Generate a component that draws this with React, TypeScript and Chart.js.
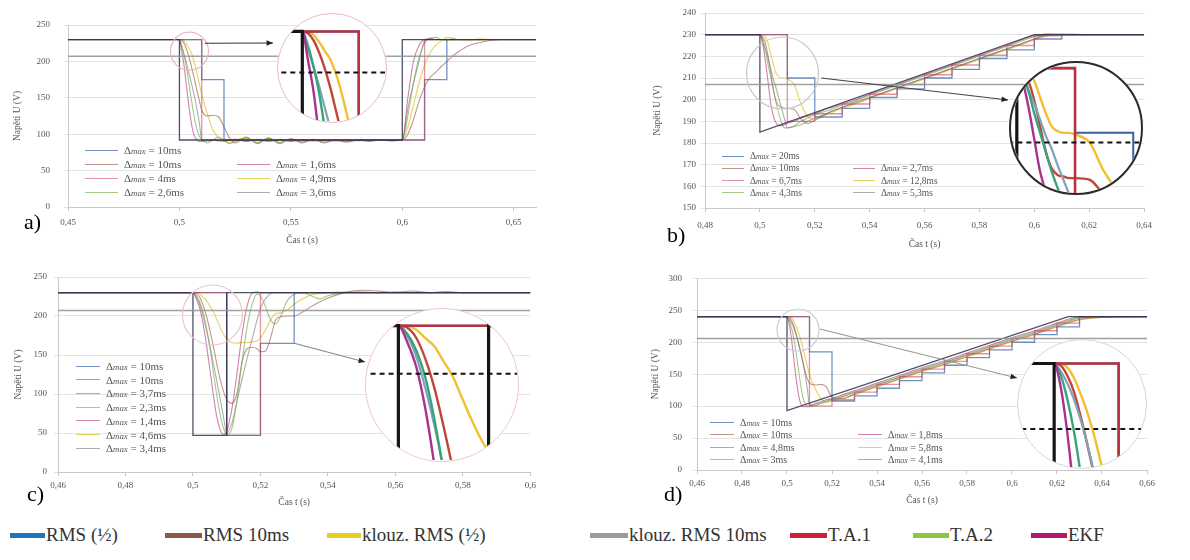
import React, { useEffect, useRef } from "react";
import { Chart, registerables } from "chart.js";
Chart.register(...registerables);

const SERIF = '"Liberation Serif", "Times New Roman", "DejaVu Serif", serif';

// ---------------- panel a) ----------------
const aXTicks = [0.45, 0.5, 0.55, 0.6, 0.65];
const aYTicks = [0, 50, 100, 150, 200, 250];
const aTime = [0.45, 0.5, 0.501, 0.502, 0.503, 0.504, 0.505, 0.506, 0.507, 0.508, 0.509, 0.51, 0.5125, 0.515, 0.5175, 0.52, 0.5225, 0.525, 0.53, 0.535, 0.54, 0.545, 0.55, 0.555, 0.56, 0.565, 0.57, 0.575, 0.58, 0.585, 0.59, 0.595, 0.6, 0.6025, 0.605, 0.6075, 0.61, 0.6125, 0.615, 0.6175, 0.62, 0.6225, 0.625, 0.63, 0.635, 0.64, 0.645, 0.65, 0.66];
const aEkf = [230, 230, 214, 196, 170, 145, 122, 105, 96, 92, 90, 90, 91, 92, 91, 90, 92, 93, 90, 93, 90, 93, 90, 92, 91, 92, 91, 92, 91, 92, 92, 92, 92, 150, 200, 222, 230, 231, 230, 230, 230, 230, 230, 230, 230, 230, 230, 230, 230];
const aTa2 = [230, 230, 222, 210, 195, 175, 155, 135, 118, 105, 97, 93, 88, 92, 96, 92, 87, 90, 95, 88, 94, 88, 93, 89, 92, 89, 92, 90, 92, 91, 92, 91, 92, 125, 170, 205, 225, 232, 233, 230, 229, 231, 230, 230, 230, 230, 230, 230, 230];
const aKlouz10 = [230, 230, 220, 210, 199, 187, 175, 162, 148, 132, 114, 92, 91, 92, 91, 92, 91, 92, 91, 92, 91, 92, 91, 92, 91, 92, 91, 92, 92, 92, 92, 92, 92, 135, 170, 200, 228, 231, 230, 230, 230, 230, 230, 230, 230, 230, 230, 230, 230];
const aRms10 = [230, 230, 229, 225, 218, 209, 198, 185, 172, 158, 145, 133, 125, 126, 124, 110, 95, 88, 96, 87, 95, 87, 94, 88, 93, 88, 92, 89, 92, 90, 92, 91, 92, 100, 120, 145, 165, 178, 185, 193, 200, 207, 213, 222, 226, 229, 230, 230, 230];
const aKlouzHalf = [230, 230, 230, 228, 224, 219, 214, 206, 195, 182, 168, 155, 128, 106, 95, 91, 88, 92, 94, 89, 94, 89, 93, 90, 93, 90, 92, 90, 92, 91, 92, 91, 92, 110, 140, 170, 195, 212, 222, 228, 233, 232, 230, 229, 231, 230, 230, 230, 230];
const aDarkT = [0.45, 0.5, 0.6, 0.66];
const aDarkV = [230, 92, 230, 230];
const aRmsHalfT = [0.45, 0.51, 0.52, 0.61, 0.62, 0.66];
const aRmsHalfV = [230, 175, 92, 175, 230, 230];
const aTa1T = [0.45, 0.51, 0.61, 0.66];
const aTa1V = [230, 92, 230, 230];
const aThrT = [0.45, 0.66];
const aThrV = [207, 207];
const aLegend = ["10ms", "10ms", "4ms", "2,6ms", "1,6ms", "4,9ms", "3,6ms"];

// ---------------- panel b) ----------------
const bXTicks = [0.48, 0.5, 0.52, 0.54, 0.56, 0.58, 0.6, 0.62, 0.64];
const bYTicks = [150, 160, 170, 180, 190, 200, 210, 220, 230, 240];
const bTime = [0.48, 0.5, 0.501, 0.502, 0.503, 0.504, 0.505, 0.506, 0.507, 0.508, 0.509, 0.51, 0.5125, 0.515, 0.5175, 0.52, 0.525, 0.53, 0.535, 0.54, 0.55, 0.56, 0.57, 0.58, 0.59, 0.6, 0.605, 0.61, 0.62, 0.64];
const bEkf = [230, 230, 226, 218, 208, 198, 192, 189, 188, 188, 188.5, 189, 190, 191.5, 192.5, 193.5, 196, 198, 200, 202.5, 207, 211.5, 216, 220.5, 225, 229.5, 230, 230, 230, 230];
const bTa2 = [230, 230, 228, 223, 216, 210, 204, 198, 193, 189, 187, 187, 188, 190, 191.5, 193, 195, 197.5, 199.5, 202, 206.5, 211, 215.5, 220, 224.5, 229, 230.5, 230, 230, 230];
const bKlouz10 = [230, 230, 227, 223, 219, 214, 209, 205, 200, 195.5, 191, 187, 187.5, 188.5, 190, 191.5, 194, 196.5, 198.5, 201, 205.5, 210, 214.5, 219, 223.5, 228, 230, 230, 230, 230];
const bRms10 = [230, 230, 229, 226, 220, 212, 204, 199, 197, 196.5, 196, 196, 195.5, 191, 189, 190.5, 194, 196.5, 199, 201, 205.5, 210, 214.5, 219, 223.5, 228, 230, 230, 230, 230];
const bKlouzHalf = [230, 230, 230, 229, 226, 221, 216, 212, 210.5, 210, 210, 209.5, 207, 198, 192, 191, 193.5, 196, 198, 200.5, 205, 209.5, 214, 218.5, 223, 227.5, 229.5, 230.5, 230, 230];
const bDarkT = [0.48, 0.5, 0.5, 0.6, 0.64];
const bDarkV = [230, 230, 185, 230, 230];
const bRmsHalfT = [0.48, 0.51, 0.52, 0.53, 0.54, 0.55, 0.56, 0.57, 0.58, 0.59, 0.6, 0.61, 0.64];
const bRmsHalfV = [230, 210, 192, 196, 201, 205, 210, 214, 219, 223, 228, 230, 230];
const bTa1T = [0.48, 0.51, 0.52, 0.53, 0.54, 0.55, 0.56, 0.57, 0.58, 0.59, 0.6, 0.61, 0.64];
const bTa1V = [230, 190, 193.5, 198, 202.5, 207, 211.5, 216, 220.5, 225, 229.5, 230, 230];
const bThrT = [0.48, 0.64];
const bThrV = [207, 207];
const bLegend = ["20ms", "10ms", "6,7ms", "4,3ms", "2,7ms", "12,8ms", "5,3ms"];

// ---------------- panel c) ----------------
const cXTicks = [0.46, 0.48, 0.5, 0.52, 0.54, 0.56, 0.58, 0.6];
const cYTicks = [0, 50, 100, 150, 200, 250];
const cTime = [0.46, 0.5, 0.501, 0.502, 0.503, 0.504, 0.505, 0.506, 0.507, 0.508, 0.509, 0.51, 0.5115, 0.513, 0.5145, 0.516, 0.5175, 0.519, 0.52, 0.5215, 0.523, 0.5245, 0.526, 0.528, 0.53, 0.5325, 0.535, 0.5375, 0.54, 0.545, 0.55, 0.555, 0.56, 0.565, 0.57, 0.575, 0.58, 0.59, 0.6];
const cEkf = [230, 230, 222, 210, 190, 163, 132, 100, 72, 55, 48, 52, 80, 125, 175, 212, 229, 231, 230, 230, 230, 230, 230, 230, 230, 230, 230, 230, 230, 230, 230, 230, 230, 230, 230, 230, 230, 230, 230];
const cTa2 = [230, 230, 226, 218, 205, 185, 160, 130, 100, 75, 57, 48, 55, 90, 140, 185, 215, 228, 226, 212, 195, 190, 200, 220, 228, 230, 226, 222, 226, 230, 231, 230, 231, 230, 230, 231, 230, 230, 230];
const cKlouz10 = [230, 230, 225, 215, 200, 182, 162, 140, 118, 95, 72, 50, 62, 90, 118, 145, 170, 195, 210, 222, 229, 230, 230, 230, 230, 230, 230, 230, 230, 230, 230, 230, 230, 230, 230, 230, 230, 230, 230];
const cRms10 = [230, 230, 229, 224, 214, 200, 182, 162, 140, 120, 104, 93, 88, 100, 140, 158, 160, 158, 154, 155, 172, 195, 199, 200, 200, 205, 212, 218, 223, 230, 233, 232, 230, 232, 230, 231, 230, 230, 230];
const cKlouzHalf = [230, 230, 230, 228, 224, 220, 213, 206, 196, 186, 177, 170, 166, 165, 166, 166, 167, 168, 172, 182, 195, 203, 204, 208, 215, 222, 227, 229, 230, 231, 230, 230, 230, 230, 230, 230, 230, 230, 230];
const cDarkT = [0.46, 0.5, 0.51, 0.6];
const cDarkV = [230, 47, 230, 230];
const cRmsHalfT = [0.46, 0.51, 0.52, 0.53, 0.6];
const cRmsHalfV = [230, 47, 165, 230, 230];
const cTa1T = [0.46, 0.51, 0.52, 0.6];
const cTa1V = [230, 47, 230, 230];
const cThrT = [0.46, 0.6];
const cThrV = [207, 207];
const cLegend = ["10ms", "10ms", "3,7ms", "2,3ms", "1,4ms", "4,6ms", "3,4ms"];

// ---------------- panel d) ----------------
const dXTicks = [0.46, 0.48, 0.5, 0.52, 0.54, 0.56, 0.58, 0.6, 0.62, 0.64, 0.66];
const dYTicks = [0, 50, 100, 150, 200, 250, 300];
const dTime = [0.46, 0.5, 0.501, 0.502, 0.503, 0.504, 0.505, 0.506, 0.507, 0.508, 0.509, 0.51, 0.5125, 0.515, 0.5175, 0.52, 0.525, 0.53, 0.535, 0.54, 0.55, 0.56, 0.57, 0.58, 0.59, 0.6, 0.61, 0.62, 0.625, 0.63, 0.64, 0.66];
const dEkf = [240, 240, 228, 205, 175, 145, 120, 105, 99, 99, 100, 101, 104, 107, 110, 112, 118, 124, 130, 136, 148, 160, 171, 183, 195, 207, 218, 230, 236, 240, 240, 240];
const dTa2 = [240, 240, 234, 222, 206, 185, 160, 135, 115, 104, 99, 99, 102, 105, 108, 111, 116, 122, 128, 134, 146, 158, 169, 181, 193, 205, 216, 228, 234, 239, 240, 240];
const dKlouz10 = [240, 240, 236, 230, 222, 212, 200, 186, 170, 150, 128, 102, 101, 104, 107, 110, 115, 121, 127, 133, 145, 157, 168, 180, 192, 204, 215, 227, 233, 238, 240, 240];
const dRms10 = [240, 240, 239, 234, 226, 214, 200, 185, 170, 155, 143, 136, 133, 134, 130, 114, 112, 119, 125, 131, 143, 155, 166, 178, 190, 202, 213, 225, 231, 236, 239, 240];
const dKlouzHalf = [240, 240, 240, 238, 233, 225, 216, 205, 192, 178, 163, 150, 128, 112, 106, 108, 113, 118, 124, 130, 142, 154, 165, 177, 189, 201, 212, 224, 230, 235, 239, 240];
const dDarkT = [0.46, 0.5, 0.5, 0.625, 0.66];
const dDarkV = [240, 240, 93, 240, 240];
const dRmsHalfT = [0.46, 0.51, 0.52, 0.53, 0.54, 0.55, 0.56, 0.57, 0.58, 0.59, 0.6, 0.61, 0.62, 0.63, 0.66];
const dRmsHalfV = [240, 185, 108, 116, 128, 140, 152, 164, 176, 188, 200, 212, 224, 240, 240];
const dTa1T = [0.46, 0.51, 0.52, 0.53, 0.54, 0.55, 0.56, 0.57, 0.58, 0.59, 0.6, 0.61, 0.62, 0.63, 0.66];
const dTa1V = [240, 100, 110, 122, 134, 146, 158, 170, 182, 194, 206, 218, 230, 240, 240];
const dThrT = [0.46, 0.66];
const dThrV = [206, 206];
const dLegend = ["10ms", "10ms", "4,8ms", "3ms", "1,8ms", "5,8ms", "4,1ms"];

// ---------------- global legend ----------------
const methodNames = ["RMS (½)", "RMS 10ms", "klouz. RMS (½)", "klouz. RMS 10ms", "T.A.1", "T.A.2", "EKF"];
const methodColors = ["#1f74bd", "#8a5a44", "#e6cf1c", "#9c9c9c", "#cc2233", "#8cc63e", "#b0176f"];

// ---------------- styles ----------------
type Style = { color: string; width: number; dash?: number[] };
const MAIN_STYLE: Record<string, Style> = {
  thr: { color: "rgba(150,150,150,0.9)", width: 1.6 },
  dark: { color: "rgba(45,50,75,0.85)", width: 1.3 },
  ta1: { color: "rgba(200,60,80,0.55)", width: 1.3 },
  rmsHalf: { color: "rgba(50,100,170,0.7)", width: 1.3 },
  ekf: { color: "rgba(176,23,111,0.55)", width: 1.1 },
  ta2: { color: "rgba(110,175,70,0.65)", width: 1.1 },
  klouz10: { color: "rgba(120,120,120,0.6)", width: 1.1 },
  rms10: { color: "rgba(150,80,60,0.6)", width: 1.1 },
  klouzHalf: { color: "rgba(225,195,40,0.75)", width: 1.1 },
};
const INSET_STYLE: Record<string, Style> = {
  thr: { color: "#111", width: 2, dash: [5, 4] },
  dark: { color: "#151515", width: 3.2 },
  ta1: { color: "#b5343c", width: 2.6 },
  rmsHalf: { color: "#3a5fa0", width: 2 },
  ekf: { color: "#a8328f", width: 2.4 },
  ta2: { color: "#3aa37a", width: 2.4 },
  klouz10: { color: "#7fa3b8", width: 2.2 },
  rms10: { color: "#c0463a", width: 2.4 },
  klouzHalf: { color: "#f0c030", width: 2.4 },
};
const LEGEND_ROLES = ["rmsHalf", "rms10", "ta1", "ta2", "ekf", "klouzHalf", "klouz10"];

type Series = { t: number[]; v: number[]; role: string; stepped?: boolean; smooth?: boolean };
const mk = (t: number[], v: number[], role: string, kind = "") => ({ t, v, role, stepped: kind === "step", smooth: kind === "smooth" });

const aSeries: Series[] = [
  mk(aThrT, aThrV, "thr"), mk(aDarkT, aDarkV, "dark", "step"), mk(aTa1T, aTa1V, "ta1", "step"),
  mk(aRmsHalfT, aRmsHalfV, "rmsHalf", "step"), mk(aTime, aEkf, "ekf", "smooth"), mk(aTime, aTa2, "ta2", "smooth"),
  mk(aTime, aKlouz10, "klouz10", "smooth"), mk(aTime, aRms10, "rms10", "smooth"), mk(aTime, aKlouzHalf, "klouzHalf", "smooth"),
];
const bSeries: Series[] = [
  mk(bThrT, bThrV, "thr"), mk(bDarkT, bDarkV, "dark"), mk(bTa1T, bTa1V, "ta1", "step"),
  mk(bRmsHalfT, bRmsHalfV, "rmsHalf", "step"), mk(bTime, bEkf, "ekf", "smooth"), mk(bTime, bTa2, "ta2", "smooth"),
  mk(bTime, bKlouz10, "klouz10", "smooth"), mk(bTime, bRms10, "rms10", "smooth"), mk(bTime, bKlouzHalf, "klouzHalf", "smooth"),
];
const cSeries: Series[] = [
  mk(cThrT, cThrV, "thr"), mk(cDarkT, cDarkV, "dark", "step"), mk(cTa1T, cTa1V, "ta1", "step"),
  mk(cRmsHalfT, cRmsHalfV, "rmsHalf", "step"), mk(cTime, cEkf, "ekf", "smooth"), mk(cTime, cTa2, "ta2", "smooth"),
  mk(cTime, cKlouz10, "klouz10", "smooth"), mk(cTime, cRms10, "rms10", "smooth"), mk(cTime, cKlouzHalf, "klouzHalf", "smooth"),
];
const dSeries: Series[] = [
  mk(dThrT, dThrV, "thr"), mk(dDarkT, dDarkV, "dark"), mk(dTa1T, dTa1V, "ta1", "step"),
  mk(dRmsHalfT, dRmsHalfV, "rmsHalf", "step"), mk(dTime, dEkf, "ekf", "smooth"), mk(dTime, dTa2, "ta2", "smooth"),
  mk(dTime, dKlouz10, "klouz10", "smooth"), mk(dTime, dRms10, "rms10", "smooth"), mk(dTime, dKlouzHalf, "klouzHalf", "smooth"),
];

const PANELS = [
  {
    id: "a", series: aSeries, labels: aLegend, xTicks: aXTicks, yTicks: aYTicks,
    xMin: 0.45, xMax: 0.66, yMin: 0, yMax: 250,
    box: { left: 8, top: 0, w: 535, h: 250 }, plot: { left: 68, top: 25, right: 536, bottom: 207 },
    yPad: 14, xPad: 6,
    tag: { text: "a)", x: 24, y: 210 },
    legend: { left1: 85, left2: 237, top: 150, rowH: 14, font: 11, lineW: 33 },
    inset: { cx: 332, cy: 68, r: 55, border: "#ebbcc2", bw: 1.5, xMin: 0.49569, xMax: 0.51466, yMin: 179.7, yMax: 239.8 },
    callout: { cx: 0.5045, cy: 214, r: 19, circle: "#e8b8be", lx: 0.5114, ly: 225, tx: 273, ty: 43, line: "#333" },
  },
  {
    id: "b", series: bSeries, labels: bLegend, xTicks: bXTicks, yTicks: bYTicks,
    xMin: 0.48, xMax: 0.64, yMin: 150, yMax: 240,
    box: { left: 648, top: 0, w: 512, h: 254 }, plot: { left: 705, top: 13, right: 1147, bottom: 208 },
    yPad: 5, xPad: 8,
    tag: { text: "b)", x: 667, y: 223 },
    legend: { left1: 722, left2: 853, top: 156, rowH: 12.3, font: 9.5, lineW: 22 },
    inset: { cx: 1076, cy: 128, r: 67, border: "#2a2a2a", bw: 2, xMin: 0.499, xMax: 0.52133, yMin: 191.4, yMax: 231.6 },
    callout: { cx: 0.50824, cy: 212.3, r: 36, circle: "#c8c8c8", lx: 0.52235, ly: 210, tx: 1008, ty: 100, line: "#444" },
  },
  {
    id: "c", series: cSeries, labels: cLegend, xTicks: cXTicks, yTicks: cYTicks,
    xMin: 0.46, xMax: 0.6, yMin: 0, yMax: 250,
    box: { left: 9, top: 262, w: 531, h: 250 }, plot: { left: 58, top: 277, right: 532, bottom: 472 },
    yPad: 7, xPad: 4,
    tag: { text: "c)", x: 27, y: 482 },
    legend: { left1: 76, left2: 76, top: 366, rowH: 13.7, font: 11, lineW: 24, single: true },
    inset: { cx: 442, cy: 385, r: 77, border: "#ebc7cc", bw: 1.5, xMin: 0.49641, xMax: 0.51315, yMin: 165.7, yMax: 238 },
    callout: { cx: 0.50578, cy: 201.3, r: 30, circle: "#e9c8cc", lx: 0.53, ly: 165, tx: 365, ty: 362, line: "#888" },
  },
  {
    id: "d", series: dSeries, labels: dLegend, xTicks: dXTicks, yTicks: dYTicks,
    xMin: 0.46, xMax: 0.66, yMin: 0, yMax: 300,
    box: { left: 646, top: 262, w: 514, h: 248 }, plot: { left: 697, top: 277, right: 1147, bottom: 470 },
    yPad: 11, xPad: 4,
    tag: { text: "d)", x: 664, y: 482 },
    legend: { left1: 710, left2: 858, top: 422, rowH: 12.5, font: 10, lineW: 24 },
    inset: { cx: 1082, cy: 404, r: 65, border: "#d6d6de", bw: 1.5, xMin: 0.49439, xMax: 0.51409, yMin: 186.2, yMax: 252.2 },
    callout: { cx: 0.50489, cy: 219.2, r: 21, circle: "#cacbd8", lx: 0.51467, ly: 220.7, tx: 1017, ty: 378, line: "#999" },
  },
];

const pts = (t: number[], v: number[]) => t.map((x, i) => ({ x, y: v[i] }));
const fmt = (v: number) => String(+Number(v).toFixed(3)).replace(".", ",");

function buildDatasets(series: Series[], styles: Record<string, Style>) {
  return series.map((s) => {
    const st = styles[s.role];
    return {
      data: pts(s.t, s.v),
      borderColor: st.color,
      borderWidth: st.width,
      borderDash: st.dash || [],
      pointRadius: 0,
      fill: false,
      stepped: s.stepped ? true : false,
      cubicInterpolationMode: s.smooth ? "monotone" : "default",
      tension: 0,
    } as any;
  });
}

const calloutPlugin = {
  id: "callout",
  afterDatasetsDraw(chart: any, _args: any, o: any) {
    if (!o || o.cx === undefined) return;
    const { ctx } = chart;
    const x = chart.scales.x, y = chart.scales.y;
    ctx.save();
    ctx.strokeStyle = o.circle;
    ctx.lineWidth = 1.2;
    ctx.beginPath();
    ctx.arc(x.getPixelForValue(o.cx), y.getPixelForValue(o.cy), o.r, 0, Math.PI * 2);
    ctx.stroke();
    const x1 = x.getPixelForValue(o.lx), y1 = y.getPixelForValue(o.ly);
    const x2 = o.tx - o.ox, y2 = o.ty - o.oy;
    ctx.strokeStyle = o.line;
    ctx.lineWidth = 1.1;
    ctx.beginPath();
    ctx.moveTo(x1, y1);
    ctx.lineTo(x2, y2);
    ctx.stroke();
    const ang = Math.atan2(y2 - y1, x2 - x1);
    ctx.fillStyle = "#222";
    ctx.beginPath();
    ctx.moveTo(x2, y2);
    ctx.lineTo(x2 - 7 * Math.cos(ang - 0.4), y2 - 7 * Math.sin(ang - 0.4));
    ctx.lineTo(x2 - 7 * Math.cos(ang + 0.4), y2 - 7 * Math.sin(ang + 0.4));
    ctx.closePath();
    ctx.fill();
    ctx.restore();
  },
};

function Panel({ p }: { p: any }) {
  const ref = useRef<HTMLCanvasElement>(null);
  useEffect(() => {
    const { box, plot } = p;
    const yW = plot.left - box.left;
    const xH = box.top + box.h - plot.bottom;
    const padTop = plot.top - box.top;
    const padRight = box.left + box.w - plot.right;
    const tickFont = { family: SERIF, size: 9 };
    const titleFont = { family: SERIF, size: 9.5 };
    const chart = new Chart(ref.current as HTMLCanvasElement, {
      type: "line",
      data: { datasets: buildDatasets(p.series, MAIN_STYLE) },
      options: {
        responsive: false,
        animation: false,
        layout: { padding: { top: padTop, right: padRight, left: 0, bottom: 0 } },
        plugins: {
          legend: { display: false },
          tooltip: { enabled: false },
          callout: { ...p.callout, ox: box.left, oy: box.top },
        } as any,
        scales: {
          x: {
            type: "linear",
            min: p.xMin,
            max: p.xMax,
            afterBuildTicks: (s: any) => { s.ticks = p.xTicks.map((v: number) => ({ value: v })); },
            afterFit: (s: any) => { s.height = xH; },
            ticks: { callback: (v: any) => fmt(v), font: tickFont, color: "#555", padding: p.xPad, maxRotation: 0, autoSkip: false },
            grid: { drawOnChartArea: false, tickLength: 4, color: "#c8c8c8" },
            border: { color: "#c8c8c8" },
            title: { display: true, text: "Čas t (s)", font: titleFont, color: "#555" },
          },
          y: {
            type: "linear",
            min: p.yMin,
            max: p.yMax,
            afterBuildTicks: (s: any) => { s.ticks = p.yTicks.map((v: number) => ({ value: v })); },
            afterFit: (s: any) => { s.width = yW; },
            ticks: { callback: (v: any) => fmt(v), font: tickFont, color: "#555", padding: p.yPad, autoSkip: false },
            grid: { color: "#e3e3e3", tickLength: 4 },
            border: { color: "#c8c8c8" },
            title: { display: true, text: "Napětí U (V)", font: titleFont, color: "#555" },
          },
        },
      } as any,
      plugins: [calloutPlugin as any],
    });
    return () => chart.destroy();
  }, []);
  const { box } = p;
  return (
    <canvas
      ref={ref}
      width={box.w}
      height={box.h}
      style={{ position: "absolute", left: box.left, top: box.top, width: box.w, height: box.h }}
    />
  );
}

function Inset({ p }: { p: any }) {
  const ref = useRef<HTMLCanvasElement>(null);
  const ins = p.inset;
  const size = ins.r * 2 - ins.bw * 2;
  useEffect(() => {
    const chart = new Chart(ref.current as HTMLCanvasElement, {
      type: "line",
      data: { datasets: buildDatasets(p.series, INSET_STYLE) },
      options: {
        responsive: false,
        animation: false,
        layout: { padding: 0 },
        plugins: { legend: { display: false }, tooltip: { enabled: false } },
        scales: {
          x: { type: "linear", display: false, min: ins.xMin, max: ins.xMax },
          y: { type: "linear", display: false, min: ins.yMin, max: ins.yMax },
        },
      } as any,
    });
    return () => chart.destroy();
  }, []);
  return (
    <div
      style={{
        position: "absolute",
        left: ins.cx - ins.r,
        top: ins.cy - ins.r,
        width: ins.r * 2,
        height: ins.r * 2,
        borderRadius: "50%",
        overflow: "hidden",
        border: `${ins.bw}px solid ${ins.border}`,
        boxSizing: "border-box",
        background: "#fff",
      }}
    >
      <canvas ref={ref} width={size} height={size} style={{ display: "block", width: size, height: size }} />
    </div>
  );
}

function InnerLegend({ p }: { p: any }) {
  const L = p.legend;
  const lh = L.font + 3;
  return (
    <>
      {p.labels.map((lab: string, i: number) => {
        const second = !L.single && i >= 4;
        const row = second ? i - 3 : i;
        const left = second ? L.left2 : L.left1;
        const cy = L.top + row * L.rowH;
        const st = MAIN_STYLE[LEGEND_ROLES[i]];
        return (
          <div
            key={i}
            style={{
              position: "absolute",
              left,
              top: cy - lh / 2,
              height: lh,
              display: "flex",
              alignItems: "center",
              fontFamily: SERIF,
              fontSize: L.font,
              color: "#555",
              whiteSpace: "nowrap",
            }}
          >
            <span style={{ display: "inline-block", width: L.lineW, borderTop: `1.5px solid ${st.color}`, marginRight: 6 }} />
            <span>
              Δ<span style={{ fontStyle: "italic", fontSize: "0.8em" }}>max</span> = {lab}
            </span>
          </div>
        );
      })}
    </>
  );
}

const LEGEND_POS = [
  { x: 10, w: 35 },
  { x: 165, w: 37 },
  { x: 327, w: 34 },
  { x: 590, w: 38 },
  { x: 790, w: 37 },
  { x: 913, w: 36 },
  { x: 1031, w: 36 },
];

export default function App() {
  return (
    <div style={{ position: "absolute", left: 0, top: 0, width: 1190, height: 560, background: "#fff", overflow: "hidden" }}>
      {PANELS.map((p) => (
        <React.Fragment key={p.id}>
          <Panel p={p} />
          <InnerLegend p={p} />
          <Inset p={p} />
          <div style={{ position: "absolute", left: p.tag.x, top: p.tag.y, fontFamily: SERIF, fontSize: 22, color: "#000", lineHeight: "24px" }}>
            {p.tag.text}
          </div>
        </React.Fragment>
      ))}
      {methodNames.map((name, i) => (
        <React.Fragment key={name}>
          <div
            style={{
              position: "absolute",
              left: LEGEND_POS[i].x,
              top: 533,
              width: LEGEND_POS[i].w,
              height: 5,
              background: methodColors[i],
            }}
          />
          <div
            style={{
              position: "absolute",
              left: LEGEND_POS[i].x + LEGEND_POS[i].w + 1,
              top: 524,
              fontFamily: SERIF,
              fontSize: 19,
              lineHeight: "22px",
              color: "#333",
              whiteSpace: "nowrap",
            }}
          >
            {name}
          </div>
        </React.Fragment>
      ))}
    </div>
  );
}
